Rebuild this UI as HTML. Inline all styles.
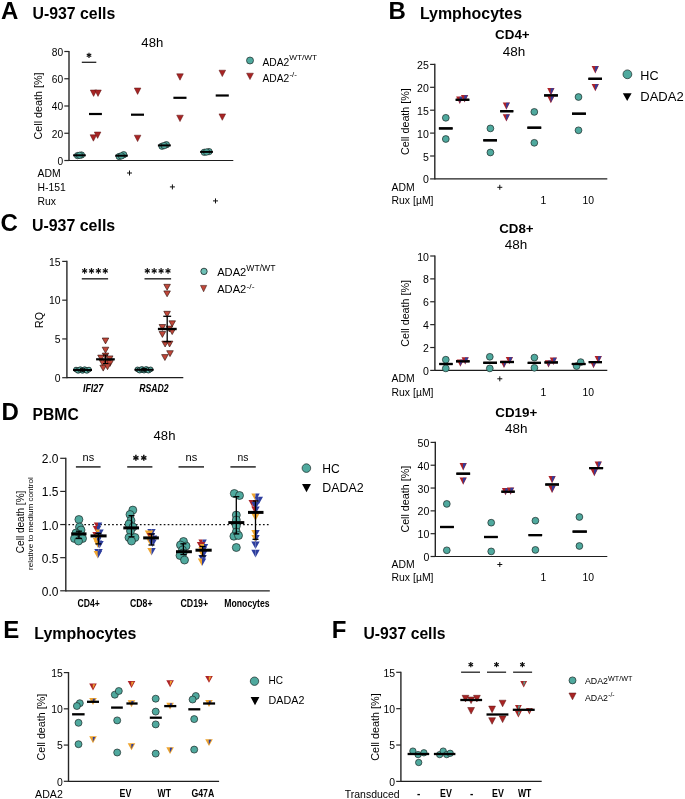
<!DOCTYPE html>
<html><head><meta charset="utf-8"><style>
html,body{margin:0;padding:0;background:#fff;}
svg{display:block;font-family:'Liberation Sans', sans-serif;will-change:transform;}
</style></head><body>
<svg width="685" height="799" viewBox="0 0 685 799">
<rect width="685" height="799" fill="#fff"/>
<text x="1" y="18.7" font-size="24" font-weight="bold">A</text>
<text x="32.5" y="19" font-size="15.8" font-weight="bold" textLength="82.8" lengthAdjust="spacingAndGlyphs">U-937 cells</text>
<text x="152.3" y="46.8" font-size="13.2" text-anchor="middle" textLength="21.9" lengthAdjust="spacingAndGlyphs">48h</text>
<line x1="69" y1="50.9" x2="69" y2="161.1" stroke="#262626" stroke-width="1.4"/>
<line x1="64.3" y1="160.5" x2="69" y2="160.5" stroke="#262626" stroke-width="1.2"/>
<text x="63.2" y="164.89" font-size="10.8" text-anchor="end" textLength="5.67" lengthAdjust="spacingAndGlyphs">0</text>
<line x1="64.3" y1="133.25" x2="69" y2="133.25" stroke="#262626" stroke-width="1.2"/>
<text x="63.2" y="137.64" font-size="10.8" text-anchor="end" textLength="11.34" lengthAdjust="spacingAndGlyphs">20</text>
<line x1="64.3" y1="106" x2="69" y2="106" stroke="#262626" stroke-width="1.2"/>
<text x="63.2" y="110.39" font-size="10.8" text-anchor="end" textLength="11.34" lengthAdjust="spacingAndGlyphs">40</text>
<line x1="64.3" y1="78.75" x2="69" y2="78.75" stroke="#262626" stroke-width="1.2"/>
<text x="63.2" y="83.14" font-size="10.8" text-anchor="end" textLength="11.34" lengthAdjust="spacingAndGlyphs">60</text>
<line x1="64.3" y1="51.5" x2="69" y2="51.5" stroke="#262626" stroke-width="1.2"/>
<text x="63.2" y="55.89" font-size="10.8" text-anchor="end" textLength="11.34" lengthAdjust="spacingAndGlyphs">80</text>
<line x1="69" y1="160.5" x2="233.3" y2="160.5" stroke="#1e1e1e" stroke-width="1.2"/>
<text x="41.8" y="106" font-size="10.8" text-anchor="middle" textLength="67" lengthAdjust="spacingAndGlyphs" transform="rotate(-90 41.8 106)">Cell death [%]</text>
<circle cx="77.6" cy="155.6" r="3.2" fill="#4FA99E" stroke="#1c2826" stroke-width="0.7"/>
<circle cx="81.4" cy="155" r="3.2" fill="#4FA99E" stroke="#1c2826" stroke-width="0.7"/>
<circle cx="79.5" cy="155.3" r="3.2" fill="#4FA99E" stroke="#1c2826" stroke-width="0.7"/>
<line x1="73.1" y1="155.3" x2="85.8" y2="155.3" stroke="#000" stroke-width="2"/>
<circle cx="119.2" cy="156.5" r="3.2" fill="#4FA99E" stroke="#1c2826" stroke-width="0.7"/>
<circle cx="123.7" cy="154.7" r="3.2" fill="#4FA99E" stroke="#1c2826" stroke-width="0.7"/>
<circle cx="121.4" cy="155.9" r="3.2" fill="#4FA99E" stroke="#1c2826" stroke-width="0.7"/>
<line x1="115.2" y1="155.7" x2="127.8" y2="155.7" stroke="#000" stroke-width="2"/>
<circle cx="162" cy="146.2" r="3.2" fill="#4FA99E" stroke="#1c2826" stroke-width="0.7"/>
<circle cx="166.4" cy="144.7" r="3.2" fill="#4FA99E" stroke="#1c2826" stroke-width="0.7"/>
<circle cx="164.2" cy="145.6" r="3.2" fill="#4FA99E" stroke="#1c2826" stroke-width="0.7"/>
<line x1="157.9" y1="145.4" x2="170.8" y2="145.4" stroke="#000" stroke-width="2"/>
<circle cx="204.3" cy="152.3" r="3.2" fill="#4FA99E" stroke="#1c2826" stroke-width="0.7"/>
<circle cx="209" cy="151.6" r="3.2" fill="#4FA99E" stroke="#1c2826" stroke-width="0.7"/>
<circle cx="206.6" cy="152" r="3.2" fill="#4FA99E" stroke="#1c2826" stroke-width="0.7"/>
<line x1="200.1" y1="151.9" x2="212.9" y2="151.9" stroke="#000" stroke-width="2"/>
<polygon points="90.3,90 96.9,90 93.6,96.4" fill="#A82424" stroke="#5a1010" stroke-width="0.5"/>
<polygon points="94.7,90 101.3,90 98,96.4" fill="#A82424" stroke="#5a1010" stroke-width="0.5"/>
<polygon points="90.1,134.8 96.7,134.8 93.4,141.2" fill="#A82424" stroke="#5a1010" stroke-width="0.5"/>
<polygon points="94.3,132 100.9,132 97.6,138.4" fill="#A82424" stroke="#5a1010" stroke-width="0.5"/>
<polygon points="134.3,88 140.9,88 137.6,94.4" fill="#A82424" stroke="#5a1010" stroke-width="0.5"/>
<polygon points="134.3,135.2 140.9,135.2 137.6,141.6" fill="#A82424" stroke="#5a1010" stroke-width="0.5"/>
<polygon points="176.7,73.8 183.3,73.8 180,80.2" fill="#A82424" stroke="#5a1010" stroke-width="0.5"/>
<polygon points="176.7,115.2 183.3,115.2 180,121.6" fill="#A82424" stroke="#5a1010" stroke-width="0.5"/>
<polygon points="219,70.2 225.6,70.2 222.3,76.6" fill="#A82424" stroke="#5a1010" stroke-width="0.5"/>
<polygon points="219,113.9 225.6,113.9 222.3,120.3" fill="#A82424" stroke="#5a1010" stroke-width="0.5"/>
<line x1="89" y1="114" x2="101.9" y2="114" stroke="#000" stroke-width="2.2"/>
<line x1="131" y1="114.7" x2="144" y2="114.7" stroke="#000" stroke-width="2.2"/>
<line x1="173.4" y1="97.8" x2="186.5" y2="97.8" stroke="#000" stroke-width="2.2"/>
<line x1="215.7" y1="95.5" x2="228.8" y2="95.5" stroke="#000" stroke-width="2.2"/>
<line x1="81.8" y1="62.3" x2="96.3" y2="62.3" stroke="#222" stroke-width="1.3"/>
<line x1="89" y1="52.7" x2="89" y2="57.9" stroke="#111" stroke-width="1.2"/>
<line x1="86.75" y1="54" x2="91.25" y2="56.6" stroke="#111" stroke-width="1.2"/>
<line x1="91.25" y1="54" x2="86.75" y2="56.6" stroke="#111" stroke-width="1.2"/>
<circle cx="89" cy="55.3" r="0.9" fill="#111"/>
<text x="37.5" y="176.7" font-size="10.4" textLength="23.1" lengthAdjust="spacingAndGlyphs">ADM</text>
<text x="37.5" y="190.8" font-size="10.4">H-151</text>
<text x="37.5" y="205.2" font-size="10.4">Rux</text>
<line x1="127" y1="173" x2="132" y2="173" stroke="#111" stroke-width="1"/>
<line x1="129.5" y1="170.5" x2="129.5" y2="175.5" stroke="#111" stroke-width="1"/>
<line x1="169.9" y1="186.9" x2="174.9" y2="186.9" stroke="#111" stroke-width="1"/>
<line x1="172.4" y1="184.4" x2="172.4" y2="189.4" stroke="#111" stroke-width="1"/>
<line x1="213" y1="200.9" x2="218" y2="200.9" stroke="#111" stroke-width="1"/>
<line x1="215.5" y1="198.4" x2="215.5" y2="203.4" stroke="#111" stroke-width="1"/>
<circle cx="250" cy="60.5" r="3.5" fill="#4FA99E" stroke="#1c2826" stroke-width="0.7"/>
<text x="262.5" y="66.1" font-size="10.4" textLength="26.8" lengthAdjust="spacingAndGlyphs">ADA2</text>
<text x="289.2" y="60.2" font-size="8" textLength="27.8" lengthAdjust="spacingAndGlyphs">WT/WT</text>
<polygon points="246.6,73.2 253.4,73.2 250,79.6" fill="#A82424" stroke="#5a1010" stroke-width="0.5"/>
<text x="262.5" y="82" font-size="10.4" textLength="26.8" lengthAdjust="spacingAndGlyphs">ADA2</text>
<text x="289.4" y="77" font-size="7.8" textLength="7.5" lengthAdjust="spacingAndGlyphs">-/-</text>
<text x="388.5" y="18.6" font-size="24" font-weight="bold">B</text>
<text x="419.9" y="18.9" font-size="15.8" font-weight="bold" textLength="102.2" lengthAdjust="spacingAndGlyphs">Lymphocytes</text>
<text x="512.4" y="39.4" font-size="13" font-weight="bold" text-anchor="middle" textLength="34.6" lengthAdjust="spacingAndGlyphs">CD4+</text>
<text x="514" y="55.8" font-size="13" text-anchor="middle" textLength="22.5" lengthAdjust="spacingAndGlyphs">48h</text>
<line x1="434.8" y1="63.8" x2="434.8" y2="179.5" stroke="#262626" stroke-width="1.4"/>
<line x1="430.1" y1="178.9" x2="434.8" y2="178.9" stroke="#262626" stroke-width="1.2"/>
<text x="428.9" y="183.43" font-size="11.2" text-anchor="end" textLength="5.89" lengthAdjust="spacingAndGlyphs">0</text>
<line x1="430.1" y1="156" x2="434.8" y2="156" stroke="#262626" stroke-width="1.2"/>
<text x="428.9" y="160.53" font-size="11.2" text-anchor="end" textLength="5.89" lengthAdjust="spacingAndGlyphs">5</text>
<line x1="430.1" y1="133.1" x2="434.8" y2="133.1" stroke="#262626" stroke-width="1.2"/>
<text x="428.9" y="137.63" font-size="11.2" text-anchor="end" textLength="11.79" lengthAdjust="spacingAndGlyphs">10</text>
<line x1="430.1" y1="110.2" x2="434.8" y2="110.2" stroke="#262626" stroke-width="1.2"/>
<text x="428.9" y="114.73" font-size="11.2" text-anchor="end" textLength="11.79" lengthAdjust="spacingAndGlyphs">15</text>
<line x1="430.1" y1="87.3" x2="434.8" y2="87.3" stroke="#262626" stroke-width="1.2"/>
<text x="428.9" y="91.83" font-size="11.2" text-anchor="end" textLength="11.79" lengthAdjust="spacingAndGlyphs">20</text>
<line x1="430.1" y1="64.4" x2="434.8" y2="64.4" stroke="#262626" stroke-width="1.2"/>
<text x="428.9" y="68.93" font-size="11.2" text-anchor="end" textLength="11.79" lengthAdjust="spacingAndGlyphs">25</text>
<line x1="434.8" y1="178.9" x2="607.3" y2="178.9" stroke="#1e1e1e" stroke-width="1.2"/>
<text x="409.5" y="121.6" font-size="10.8" text-anchor="middle" textLength="66.8" lengthAdjust="spacingAndGlyphs" transform="rotate(-90 409.5 121.6)">Cell death [%]</text>
<line x1="438.9" y1="128.4" x2="452.6" y2="128.4" stroke="#000" stroke-width="2.2"/>
<line x1="455.7" y1="99.8" x2="469.3" y2="99.8" stroke="#000" stroke-width="2.2"/>
<line x1="483.3" y1="140.3" x2="497" y2="140.3" stroke="#000" stroke-width="2.2"/>
<line x1="500.2" y1="111.2" x2="513.3" y2="111.2" stroke="#000" stroke-width="2.2"/>
<line x1="527.4" y1="127.7" x2="541.2" y2="127.7" stroke="#000" stroke-width="2.2"/>
<line x1="544.1" y1="95.4" x2="557.9" y2="95.4" stroke="#000" stroke-width="2.2"/>
<line x1="572" y1="113.7" x2="585.9" y2="113.7" stroke="#000" stroke-width="2.2"/>
<line x1="588.4" y1="78.8" x2="602" y2="78.8" stroke="#000" stroke-width="2.2"/>
<circle cx="445.8" cy="117.8" r="3.4" fill="#4FA99E" stroke="#1c2826" stroke-width="0.7"/>
<circle cx="445.8" cy="139" r="3.4" fill="#4FA99E" stroke="#1c2826" stroke-width="0.7"/>
<circle cx="490.4" cy="128.4" r="3.4" fill="#4FA99E" stroke="#1c2826" stroke-width="0.7"/>
<circle cx="490.4" cy="152.5" r="3.4" fill="#4FA99E" stroke="#1c2826" stroke-width="0.7"/>
<circle cx="534.3" cy="111.9" r="3.4" fill="#4FA99E" stroke="#1c2826" stroke-width="0.7"/>
<circle cx="534.3" cy="142.8" r="3.4" fill="#4FA99E" stroke="#1c2826" stroke-width="0.7"/>
<circle cx="578.5" cy="97" r="3.4" fill="#4FA99E" stroke="#1c2826" stroke-width="0.7"/>
<circle cx="578.5" cy="130.3" r="3.4" fill="#4FA99E" stroke="#1c2826" stroke-width="0.7"/>
<polygon points="456.15,96.6 463.45,96.6 459.8,103.9" fill="#AC2228"/>
<polygon points="459.6,96.84 462.88,96.84 459.6,103.42" fill="#2E3E9E"/>
<polygon points="460.95,95.1 468.25,95.1 464.6,102.4" fill="#AC2228"/>
<polygon points="464.4,95.34 467.68,95.34 464.4,101.92" fill="#2E3E9E"/>
<polygon points="502.75,102.4 510.05,102.4 506.4,109.7" fill="#AC2228"/>
<polygon points="506.2,102.64 509.48,102.64 506.2,109.22" fill="#2E3E9E"/>
<polygon points="502.75,114.3 510.05,114.3 506.4,121.6" fill="#AC2228"/>
<polygon points="506.2,114.54 509.48,114.54 506.2,121.12" fill="#2E3E9E"/>
<polygon points="547.25,88.1 554.55,88.1 550.9,95.4" fill="#AC2228"/>
<polygon points="550.7,88.34 553.98,88.34 550.7,94.92" fill="#2E3E9E"/>
<polygon points="547.25,96 554.55,96 550.9,103.3" fill="#AC2228"/>
<polygon points="550.7,96.24 553.98,96.24 550.7,102.82" fill="#2E3E9E"/>
<polygon points="591.65,66.1 598.95,66.1 595.3,73.4" fill="#AC2228"/>
<polygon points="595.1,66.34 598.38,66.34 595.1,72.92" fill="#2E3E9E"/>
<polygon points="591.65,84 598.95,84 595.3,91.3" fill="#AC2228"/>
<polygon points="595.1,84.24 598.38,84.24 595.1,90.82" fill="#2E3E9E"/>
<line x1="438.9" y1="128.4" x2="452.6" y2="128.4" stroke="#000" stroke-width="2.2"/>
<line x1="455.7" y1="99.8" x2="469.3" y2="99.8" stroke="#000" stroke-width="2.2"/>
<line x1="483.3" y1="140.3" x2="497" y2="140.3" stroke="#000" stroke-width="2.2"/>
<line x1="500.2" y1="111.2" x2="513.3" y2="111.2" stroke="#000" stroke-width="2.2"/>
<line x1="527.4" y1="127.7" x2="541.2" y2="127.7" stroke="#000" stroke-width="2.2"/>
<line x1="544.1" y1="95.4" x2="557.9" y2="95.4" stroke="#000" stroke-width="2.2"/>
<line x1="572" y1="113.7" x2="585.9" y2="113.7" stroke="#000" stroke-width="2.2"/>
<line x1="588.4" y1="78.8" x2="602" y2="78.8" stroke="#000" stroke-width="2.2"/>
<text x="391.5" y="190.7" font-size="10.4" textLength="23.1" lengthAdjust="spacingAndGlyphs">ADM</text>
<text x="391.5" y="204.2" font-size="10.4" textLength="42" lengthAdjust="spacingAndGlyphs">Rux [µM]</text>
<line x1="497.3" y1="187.3" x2="502.3" y2="187.3" stroke="#111" stroke-width="1"/>
<line x1="499.8" y1="184.8" x2="499.8" y2="189.8" stroke="#111" stroke-width="1"/>
<text x="543.3" y="204.2" font-size="10.4" text-anchor="middle">1</text>
<text x="588.2" y="204.2" font-size="10.4" text-anchor="middle">10</text>
<circle cx="627.4" cy="74.3" r="4.4" fill="#4FA99E" stroke="#1c2826" stroke-width="0.7"/>
<text x="640.3" y="79.9" font-size="12.6">HC</text>
<polygon points="622.8,93.2 631.6,93.2 627.2,101" fill="#000"/>
<text x="640.3" y="100.9" font-size="12.6" textLength="43.4" lengthAdjust="spacingAndGlyphs">DADA2</text>
<text x="516.4" y="232.5" font-size="13" font-weight="bold" text-anchor="middle" textLength="34.4" lengthAdjust="spacingAndGlyphs">CD8+</text>
<text x="516" y="248.9" font-size="13" text-anchor="middle" textLength="22.5" lengthAdjust="spacingAndGlyphs">48h</text>
<line x1="434.9" y1="255.4" x2="434.9" y2="371" stroke="#262626" stroke-width="1.4"/>
<line x1="430.2" y1="370.4" x2="434.9" y2="370.4" stroke="#262626" stroke-width="1.2"/>
<text x="429" y="374.93" font-size="11.2" text-anchor="end" textLength="5.89" lengthAdjust="spacingAndGlyphs">0</text>
<line x1="430.2" y1="347.52" x2="434.9" y2="347.52" stroke="#262626" stroke-width="1.2"/>
<text x="429" y="352.05" font-size="11.2" text-anchor="end" textLength="5.89" lengthAdjust="spacingAndGlyphs">2</text>
<line x1="430.2" y1="324.64" x2="434.9" y2="324.64" stroke="#262626" stroke-width="1.2"/>
<text x="429" y="329.17" font-size="11.2" text-anchor="end" textLength="5.89" lengthAdjust="spacingAndGlyphs">4</text>
<line x1="430.2" y1="301.76" x2="434.9" y2="301.76" stroke="#262626" stroke-width="1.2"/>
<text x="429" y="306.29" font-size="11.2" text-anchor="end" textLength="5.89" lengthAdjust="spacingAndGlyphs">6</text>
<line x1="430.2" y1="278.88" x2="434.9" y2="278.88" stroke="#262626" stroke-width="1.2"/>
<text x="429" y="283.41" font-size="11.2" text-anchor="end" textLength="5.89" lengthAdjust="spacingAndGlyphs">8</text>
<line x1="430.2" y1="256" x2="434.9" y2="256" stroke="#262626" stroke-width="1.2"/>
<text x="429" y="260.53" font-size="11.2" text-anchor="end" textLength="11.79" lengthAdjust="spacingAndGlyphs">10</text>
<line x1="434.9" y1="370.4" x2="607.3" y2="370.4" stroke="#1e1e1e" stroke-width="1.2"/>
<text x="409.5" y="313.4" font-size="10.8" text-anchor="middle" textLength="66.8" lengthAdjust="spacingAndGlyphs" transform="rotate(-90 409.5 313.4)">Cell death [%]</text>
<line x1="439.3" y1="364" x2="452.6" y2="364" stroke="#000" stroke-width="2.2"/>
<line x1="456" y1="361.3" x2="469.6" y2="361.3" stroke="#000" stroke-width="2.2"/>
<line x1="483.3" y1="362.8" x2="497" y2="362.8" stroke="#000" stroke-width="2.2"/>
<line x1="500.2" y1="362" x2="514" y2="362" stroke="#000" stroke-width="2.2"/>
<line x1="527.7" y1="362.9" x2="541" y2="362.9" stroke="#000" stroke-width="2.2"/>
<line x1="544.5" y1="362.4" x2="557.9" y2="362.4" stroke="#000" stroke-width="2.2"/>
<line x1="571.8" y1="364" x2="585.5" y2="364" stroke="#000" stroke-width="2.2"/>
<line x1="588.7" y1="362.1" x2="602" y2="362.1" stroke="#000" stroke-width="2.2"/>
<circle cx="445.8" cy="359.7" r="3.4" fill="#4FA99E" stroke="#1c2826" stroke-width="0.7"/>
<circle cx="445.8" cy="368.4" r="3.4" fill="#4FA99E" stroke="#1c2826" stroke-width="0.7"/>
<circle cx="489.8" cy="356.8" r="3.4" fill="#4FA99E" stroke="#1c2826" stroke-width="0.7"/>
<circle cx="489.8" cy="368.4" r="3.4" fill="#4FA99E" stroke="#1c2826" stroke-width="0.7"/>
<circle cx="534.4" cy="357.6" r="3.4" fill="#4FA99E" stroke="#1c2826" stroke-width="0.7"/>
<circle cx="534.4" cy="367.8" r="3.4" fill="#4FA99E" stroke="#1c2826" stroke-width="0.7"/>
<circle cx="576.6" cy="366.1" r="3.4" fill="#4FA99E" stroke="#1c2826" stroke-width="0.7"/>
<circle cx="580.7" cy="362.1" r="3.4" fill="#4FA99E" stroke="#1c2826" stroke-width="0.7"/>
<polygon points="456.75,359.4 464.05,359.4 460.4,366.7" fill="#AC2228"/>
<polygon points="460.2,359.64 463.48,359.64 460.2,366.22" fill="#2E3E9E"/>
<polygon points="461.55,357.2 468.85,357.2 465.2,364.5" fill="#AC2228"/>
<polygon points="465,357.44 468.28,357.44 465,364.02" fill="#2E3E9E"/>
<polygon points="500.35,360.8 507.65,360.8 504,368.1" fill="#AC2228"/>
<polygon points="503.8,361.04 507.08,361.04 503.8,367.62" fill="#2E3E9E"/>
<polygon points="505.75,357 513.05,357 509.4,364.3" fill="#AC2228"/>
<polygon points="509.2,357.24 512.48,357.24 509.2,363.82" fill="#2E3E9E"/>
<polygon points="544.85,360.2 552.15,360.2 548.5,367.5" fill="#AC2228"/>
<polygon points="548.3,360.44 551.58,360.44 548.3,367.02" fill="#2E3E9E"/>
<polygon points="549.75,357.6 557.05,357.6 553.4,364.9" fill="#AC2228"/>
<polygon points="553.2,357.84 556.48,357.84 553.2,364.42" fill="#2E3E9E"/>
<polygon points="589.85,360.9 597.15,360.9 593.5,368.2" fill="#AC2228"/>
<polygon points="593.3,361.14 596.58,361.14 593.3,367.72" fill="#2E3E9E"/>
<polygon points="594.65,356 601.95,356 598.3,363.3" fill="#AC2228"/>
<polygon points="598.1,356.24 601.38,356.24 598.1,362.82" fill="#2E3E9E"/>
<line x1="439.3" y1="364" x2="452.6" y2="364" stroke="#000" stroke-width="2.2"/>
<line x1="456" y1="361.3" x2="469.6" y2="361.3" stroke="#000" stroke-width="2.2"/>
<line x1="483.3" y1="362.8" x2="497" y2="362.8" stroke="#000" stroke-width="2.2"/>
<line x1="500.2" y1="362" x2="514" y2="362" stroke="#000" stroke-width="2.2"/>
<line x1="527.7" y1="362.9" x2="541" y2="362.9" stroke="#000" stroke-width="2.2"/>
<line x1="544.5" y1="362.4" x2="557.9" y2="362.4" stroke="#000" stroke-width="2.2"/>
<line x1="571.8" y1="364" x2="585.5" y2="364" stroke="#000" stroke-width="2.2"/>
<line x1="588.7" y1="362.1" x2="602" y2="362.1" stroke="#000" stroke-width="2.2"/>
<text x="391.5" y="382.2" font-size="10.4" textLength="23.1" lengthAdjust="spacingAndGlyphs">ADM</text>
<text x="391.5" y="395.7" font-size="10.4" textLength="42" lengthAdjust="spacingAndGlyphs">Rux [µM]</text>
<line x1="497.3" y1="378.8" x2="502.3" y2="378.8" stroke="#111" stroke-width="1"/>
<line x1="499.8" y1="376.3" x2="499.8" y2="381.3" stroke="#111" stroke-width="1"/>
<text x="543.3" y="395.7" font-size="10.4" text-anchor="middle">1</text>
<text x="588.2" y="395.7" font-size="10.4" text-anchor="middle">10</text>
<text x="516.3" y="416.6" font-size="13" font-weight="bold" text-anchor="middle" textLength="42" lengthAdjust="spacingAndGlyphs">CD19+</text>
<text x="516.3" y="433" font-size="13" text-anchor="middle" textLength="22.5" lengthAdjust="spacingAndGlyphs">48h</text>
<line x1="435.3" y1="441.8" x2="435.3" y2="557.1" stroke="#262626" stroke-width="1.4"/>
<line x1="430.6" y1="556.5" x2="435.3" y2="556.5" stroke="#262626" stroke-width="1.2"/>
<text x="429.4" y="561.03" font-size="11.2" text-anchor="end" textLength="5.89" lengthAdjust="spacingAndGlyphs">0</text>
<line x1="430.6" y1="533.68" x2="435.3" y2="533.68" stroke="#262626" stroke-width="1.2"/>
<text x="429.4" y="538.21" font-size="11.2" text-anchor="end" textLength="11.79" lengthAdjust="spacingAndGlyphs">10</text>
<line x1="430.6" y1="510.86" x2="435.3" y2="510.86" stroke="#262626" stroke-width="1.2"/>
<text x="429.4" y="515.39" font-size="11.2" text-anchor="end" textLength="11.79" lengthAdjust="spacingAndGlyphs">20</text>
<line x1="430.6" y1="488.04" x2="435.3" y2="488.04" stroke="#262626" stroke-width="1.2"/>
<text x="429.4" y="492.57" font-size="11.2" text-anchor="end" textLength="11.79" lengthAdjust="spacingAndGlyphs">30</text>
<line x1="430.6" y1="465.22" x2="435.3" y2="465.22" stroke="#262626" stroke-width="1.2"/>
<text x="429.4" y="469.75" font-size="11.2" text-anchor="end" textLength="11.79" lengthAdjust="spacingAndGlyphs">40</text>
<line x1="430.6" y1="442.4" x2="435.3" y2="442.4" stroke="#262626" stroke-width="1.2"/>
<text x="429.4" y="446.93" font-size="11.2" text-anchor="end" textLength="11.79" lengthAdjust="spacingAndGlyphs">50</text>
<line x1="435.3" y1="556.5" x2="607.3" y2="556.5" stroke="#1e1e1e" stroke-width="1.2"/>
<text x="409.5" y="499.2" font-size="10.8" text-anchor="middle" textLength="66.8" lengthAdjust="spacingAndGlyphs" transform="rotate(-90 409.5 499.2)">Cell death [%]</text>
<line x1="440.1" y1="527" x2="453.8" y2="527" stroke="#000" stroke-width="2.2"/>
<line x1="456.4" y1="473.7" x2="470.1" y2="473.7" stroke="#000" stroke-width="2.2"/>
<line x1="484" y1="537" x2="497.7" y2="537" stroke="#000" stroke-width="2.2"/>
<line x1="501.4" y1="491.7" x2="514.7" y2="491.7" stroke="#000" stroke-width="2.2"/>
<line x1="528.5" y1="535.1" x2="542.1" y2="535.1" stroke="#000" stroke-width="2.2"/>
<line x1="545.3" y1="484.5" x2="559" y2="484.5" stroke="#000" stroke-width="2.2"/>
<line x1="572.6" y1="531.6" x2="586.8" y2="531.6" stroke="#000" stroke-width="2.2"/>
<line x1="589.2" y1="468.1" x2="603.1" y2="468.1" stroke="#000" stroke-width="2.2"/>
<circle cx="446.8" cy="503.9" r="3.4" fill="#4FA99E" stroke="#1c2826" stroke-width="0.7"/>
<circle cx="446.8" cy="550.3" r="3.4" fill="#4FA99E" stroke="#1c2826" stroke-width="0.7"/>
<circle cx="491.2" cy="522.7" r="3.4" fill="#4FA99E" stroke="#1c2826" stroke-width="0.7"/>
<circle cx="491.2" cy="551.4" r="3.4" fill="#4FA99E" stroke="#1c2826" stroke-width="0.7"/>
<circle cx="535.4" cy="520.7" r="3.4" fill="#4FA99E" stroke="#1c2826" stroke-width="0.7"/>
<circle cx="535.4" cy="549.9" r="3.4" fill="#4FA99E" stroke="#1c2826" stroke-width="0.7"/>
<circle cx="579.4" cy="517" r="3.4" fill="#4FA99E" stroke="#1c2826" stroke-width="0.7"/>
<circle cx="579.4" cy="546" r="3.4" fill="#4FA99E" stroke="#1c2826" stroke-width="0.7"/>
<polygon points="459.55,463.1 466.85,463.1 463.2,470.4" fill="#AC2228"/>
<polygon points="463,463.34 466.28,463.34 463,469.92" fill="#2E3E9E"/>
<polygon points="459.55,477.4 466.85,477.4 463.2,484.7" fill="#AC2228"/>
<polygon points="463,477.64 466.28,477.64 463,484.22" fill="#2E3E9E"/>
<polygon points="501.85,488 509.15,488 505.5,495.3" fill="#AC2228"/>
<polygon points="505.3,488.24 508.58,488.24 505.3,494.82" fill="#2E3E9E"/>
<polygon points="506.95,487.5 514.25,487.5 510.6,494.8" fill="#AC2228"/>
<polygon points="510.4,487.74 513.68,487.74 510.4,494.32" fill="#2E3E9E"/>
<polygon points="548.45,476 555.75,476 552.1,483.3" fill="#AC2228"/>
<polygon points="551.9,476.24 555.18,476.24 551.9,482.82" fill="#2E3E9E"/>
<polygon points="548.45,485.7 555.75,485.7 552.1,493" fill="#AC2228"/>
<polygon points="551.9,485.94 555.18,485.94 551.9,492.52" fill="#2E3E9E"/>
<polygon points="594.65,461.6 601.95,461.6 598.3,468.9" fill="#AC2228"/>
<polygon points="598.1,461.84 601.38,461.84 598.1,468.42" fill="#2E3E9E"/>
<polygon points="590.65,469 597.95,469 594.3,476.3" fill="#AC2228"/>
<polygon points="594.1,469.24 597.38,469.24 594.1,475.82" fill="#2E3E9E"/>
<line x1="440.1" y1="527" x2="453.8" y2="527" stroke="#000" stroke-width="2.2"/>
<line x1="456.4" y1="473.7" x2="470.1" y2="473.7" stroke="#000" stroke-width="2.2"/>
<line x1="484" y1="537" x2="497.7" y2="537" stroke="#000" stroke-width="2.2"/>
<line x1="501.4" y1="491.7" x2="514.7" y2="491.7" stroke="#000" stroke-width="2.2"/>
<line x1="528.5" y1="535.1" x2="542.1" y2="535.1" stroke="#000" stroke-width="2.2"/>
<line x1="545.3" y1="484.5" x2="559" y2="484.5" stroke="#000" stroke-width="2.2"/>
<line x1="572.6" y1="531.6" x2="586.8" y2="531.6" stroke="#000" stroke-width="2.2"/>
<line x1="589.2" y1="468.1" x2="603.1" y2="468.1" stroke="#000" stroke-width="2.2"/>
<text x="391.5" y="567.9" font-size="10.4" textLength="23.1" lengthAdjust="spacingAndGlyphs">ADM</text>
<text x="391.5" y="581.4" font-size="10.4" textLength="42" lengthAdjust="spacingAndGlyphs">Rux [µM]</text>
<line x1="497.3" y1="564.5" x2="502.3" y2="564.5" stroke="#111" stroke-width="1"/>
<line x1="499.8" y1="562" x2="499.8" y2="567" stroke="#111" stroke-width="1"/>
<text x="543.3" y="581.4" font-size="10.4" text-anchor="middle">1</text>
<text x="588.2" y="581.4" font-size="10.4" text-anchor="middle">10</text>
<text x="0.5" y="231" font-size="24" font-weight="bold">C</text>
<text x="31.9" y="231.3" font-size="15.8" font-weight="bold" textLength="83.3" lengthAdjust="spacingAndGlyphs">U-937 cells</text>
<line x1="66.9" y1="260.8" x2="66.9" y2="378.3" stroke="#262626" stroke-width="1.4"/>
<line x1="62.2" y1="377.7" x2="66.9" y2="377.7" stroke="#262626" stroke-width="1.2"/>
<text x="60.6" y="381.94" font-size="10.4" text-anchor="end">0</text>
<line x1="62.2" y1="338.93" x2="66.9" y2="338.93" stroke="#262626" stroke-width="1.2"/>
<text x="60.6" y="343.18" font-size="10.4" text-anchor="end">5</text>
<line x1="62.2" y1="300.17" x2="66.9" y2="300.17" stroke="#262626" stroke-width="1.2"/>
<text x="60.6" y="304.41" font-size="10.4" text-anchor="end">10</text>
<line x1="62.2" y1="261.4" x2="66.9" y2="261.4" stroke="#262626" stroke-width="1.2"/>
<text x="60.6" y="265.64" font-size="10.4" text-anchor="end">15</text>
<line x1="66.9" y1="377.7" x2="183.3" y2="377.7" stroke="#1e1e1e" stroke-width="1.2"/>
<text x="43.2" y="320" font-size="10.6" text-anchor="middle" transform="rotate(-90 43.2 320)">RQ</text>
<line x1="81.8" y1="278.8" x2="108.1" y2="278.8" stroke="#333" stroke-width="1.5"/>
<line x1="84.6" y1="268.05" x2="84.6" y2="273.75" stroke="#111" stroke-width="1.2"/>
<line x1="82.13" y1="269.47" x2="87.07" y2="272.32" stroke="#111" stroke-width="1.2"/>
<line x1="87.07" y1="269.47" x2="82.13" y2="272.32" stroke="#111" stroke-width="1.2"/>
<circle cx="84.6" cy="270.9" r="0.9" fill="#111"/>
<line x1="91.5" y1="268.05" x2="91.5" y2="273.75" stroke="#111" stroke-width="1.2"/>
<line x1="89.03" y1="269.47" x2="93.97" y2="272.32" stroke="#111" stroke-width="1.2"/>
<line x1="93.97" y1="269.47" x2="89.03" y2="272.32" stroke="#111" stroke-width="1.2"/>
<circle cx="91.5" cy="270.9" r="0.9" fill="#111"/>
<line x1="98.4" y1="268.05" x2="98.4" y2="273.75" stroke="#111" stroke-width="1.2"/>
<line x1="95.93" y1="269.47" x2="100.87" y2="272.32" stroke="#111" stroke-width="1.2"/>
<line x1="100.87" y1="269.47" x2="95.93" y2="272.32" stroke="#111" stroke-width="1.2"/>
<circle cx="98.4" cy="270.9" r="0.9" fill="#111"/>
<line x1="105.3" y1="268.05" x2="105.3" y2="273.75" stroke="#111" stroke-width="1.2"/>
<line x1="102.83" y1="269.47" x2="107.77" y2="272.32" stroke="#111" stroke-width="1.2"/>
<line x1="107.77" y1="269.47" x2="102.83" y2="272.32" stroke="#111" stroke-width="1.2"/>
<circle cx="105.3" cy="270.9" r="0.9" fill="#111"/>
<line x1="144.5" y1="278.8" x2="171.1" y2="278.8" stroke="#333" stroke-width="1.5"/>
<line x1="147.3" y1="268.05" x2="147.3" y2="273.75" stroke="#111" stroke-width="1.2"/>
<line x1="144.83" y1="269.47" x2="149.77" y2="272.32" stroke="#111" stroke-width="1.2"/>
<line x1="149.77" y1="269.47" x2="144.83" y2="272.32" stroke="#111" stroke-width="1.2"/>
<circle cx="147.3" cy="270.9" r="0.9" fill="#111"/>
<line x1="154.2" y1="268.05" x2="154.2" y2="273.75" stroke="#111" stroke-width="1.2"/>
<line x1="151.73" y1="269.47" x2="156.67" y2="272.32" stroke="#111" stroke-width="1.2"/>
<line x1="156.67" y1="269.47" x2="151.73" y2="272.32" stroke="#111" stroke-width="1.2"/>
<circle cx="154.2" cy="270.9" r="0.9" fill="#111"/>
<line x1="161.1" y1="268.05" x2="161.1" y2="273.75" stroke="#111" stroke-width="1.2"/>
<line x1="158.63" y1="269.47" x2="163.57" y2="272.32" stroke="#111" stroke-width="1.2"/>
<line x1="163.57" y1="269.47" x2="158.63" y2="272.32" stroke="#111" stroke-width="1.2"/>
<circle cx="161.1" cy="270.9" r="0.9" fill="#111"/>
<line x1="168" y1="268.05" x2="168" y2="273.75" stroke="#111" stroke-width="1.2"/>
<line x1="165.53" y1="269.47" x2="170.47" y2="272.32" stroke="#111" stroke-width="1.2"/>
<line x1="170.47" y1="269.47" x2="165.53" y2="272.32" stroke="#111" stroke-width="1.2"/>
<circle cx="168" cy="270.9" r="0.9" fill="#111"/>
<circle cx="76" cy="369.6" r="2.4" fill="#5DB6AC" stroke="#10201e" stroke-width="0.8"/>
<circle cx="78.17" cy="370.4" r="2.8" fill="#5DB6AC" stroke="#10201e" stroke-width="0.8"/>
<circle cx="80.33" cy="369.6" r="2.8" fill="#5DB6AC" stroke="#10201e" stroke-width="0.8"/>
<circle cx="82.5" cy="370.4" r="2.8" fill="#5DB6AC" stroke="#10201e" stroke-width="0.8"/>
<circle cx="84.67" cy="369.6" r="2.8" fill="#5DB6AC" stroke="#10201e" stroke-width="0.8"/>
<circle cx="86.83" cy="370.4" r="2.8" fill="#5DB6AC" stroke="#10201e" stroke-width="0.8"/>
<circle cx="89" cy="369.6" r="2.4" fill="#5DB6AC" stroke="#10201e" stroke-width="0.8"/>
<line x1="73" y1="370" x2="92" y2="370" stroke="#000" stroke-width="2"/>
<line x1="82.5" y1="368.8" x2="82.5" y2="371.2" stroke="#000" stroke-width="1"/>
<line x1="80" y1="368.8" x2="85" y2="368.8" stroke="#000" stroke-width="1"/>
<line x1="80" y1="371.2" x2="85" y2="371.2" stroke="#000" stroke-width="1"/>
<circle cx="137.5" cy="369.4" r="2.4" fill="#5DB6AC" stroke="#10201e" stroke-width="0.8"/>
<circle cx="139.68" cy="370.2" r="2.8" fill="#5DB6AC" stroke="#10201e" stroke-width="0.8"/>
<circle cx="141.87" cy="369.4" r="2.8" fill="#5DB6AC" stroke="#10201e" stroke-width="0.8"/>
<circle cx="144.05" cy="370.2" r="2.8" fill="#5DB6AC" stroke="#10201e" stroke-width="0.8"/>
<circle cx="146.23" cy="369.4" r="2.8" fill="#5DB6AC" stroke="#10201e" stroke-width="0.8"/>
<circle cx="148.42" cy="370.2" r="2.8" fill="#5DB6AC" stroke="#10201e" stroke-width="0.8"/>
<circle cx="150.6" cy="369.4" r="2.4" fill="#5DB6AC" stroke="#10201e" stroke-width="0.8"/>
<line x1="134.5" y1="369.8" x2="153.6" y2="369.8" stroke="#000" stroke-width="2"/>
<line x1="144.05" y1="368.6" x2="144.05" y2="371" stroke="#000" stroke-width="1"/>
<line x1="141.55" y1="368.6" x2="146.55" y2="368.6" stroke="#000" stroke-width="1"/>
<line x1="141.55" y1="371" x2="146.55" y2="371" stroke="#000" stroke-width="1"/>
<polygon points="102.2,338 108.8,338 105.5,343.9" fill="#C0473A" stroke="#2a0a05" stroke-width="0.6"/>
<polygon points="102.2,347.2 108.8,347.2 105.5,353.1" fill="#C0473A" stroke="#2a0a05" stroke-width="0.6"/>
<polygon points="102.2,353.1 108.8,353.1 105.5,359" fill="#C0473A" stroke="#2a0a05" stroke-width="0.6"/>
<polygon points="97.7,355.1 104.3,355.1 101,361" fill="#C0473A" stroke="#2a0a05" stroke-width="0.6"/>
<polygon points="106.4,355.9 113,355.9 109.7,361.8" fill="#C0473A" stroke="#2a0a05" stroke-width="0.6"/>
<polygon points="99.4,360.2 106,360.2 102.7,366.1" fill="#C0473A" stroke="#2a0a05" stroke-width="0.6"/>
<polygon points="103.6,360 110.2,360 106.9,365.9" fill="#C0473A" stroke="#2a0a05" stroke-width="0.6"/>
<polygon points="106.7,360.5 113.3,360.5 110,366.4" fill="#C0473A" stroke="#2a0a05" stroke-width="0.6"/>
<polygon points="99.9,365.2 106.5,365.2 103.2,371.1" fill="#C0473A" stroke="#2a0a05" stroke-width="0.6"/>
<polygon points="104.2,363.8 110.8,363.8 107.5,369.7" fill="#C0473A" stroke="#2a0a05" stroke-width="0.6"/>
<line x1="105.5" y1="355" x2="105.5" y2="363.5" stroke="#000" stroke-width="1"/>
<line x1="103" y1="355" x2="108" y2="355" stroke="#000" stroke-width="1"/>
<line x1="103" y1="363.5" x2="108" y2="363.5" stroke="#000" stroke-width="1"/>
<line x1="96.1" y1="359.3" x2="114.8" y2="359.3" stroke="#000" stroke-width="2.2"/>
<polygon points="163.8,284.3 170.4,284.3 167.1,290.2" fill="#C0473A" stroke="#2a0a05" stroke-width="0.6"/>
<polygon points="163.8,290.9 170.4,290.9 167.1,296.8" fill="#C0473A" stroke="#2a0a05" stroke-width="0.6"/>
<polygon points="163.8,311.3 170.4,311.3 167.1,317.2" fill="#C0473A" stroke="#2a0a05" stroke-width="0.6"/>
<polygon points="168.9,320.8 175.5,320.8 172.2,326.7" fill="#C0473A" stroke="#2a0a05" stroke-width="0.6"/>
<polygon points="159.1,324.5 165.7,324.5 162.4,330.4" fill="#C0473A" stroke="#2a0a05" stroke-width="0.6"/>
<polygon points="166.1,326.1 172.7,326.1 169.4,332" fill="#C0473A" stroke="#2a0a05" stroke-width="0.6"/>
<polygon points="168.9,328.7 175.5,328.7 172.2,334.6" fill="#C0473A" stroke="#2a0a05" stroke-width="0.6"/>
<polygon points="159.1,331.5 165.7,331.5 162.4,337.4" fill="#C0473A" stroke="#2a0a05" stroke-width="0.6"/>
<polygon points="161.8,341.1 168.4,341.1 165.1,347" fill="#C0473A" stroke="#2a0a05" stroke-width="0.6"/>
<polygon points="166.3,341.1 172.9,341.1 169.6,347" fill="#C0473A" stroke="#2a0a05" stroke-width="0.6"/>
<polygon points="166.7,350.7 173.3,350.7 170,356.6" fill="#C0473A" stroke="#2a0a05" stroke-width="0.6"/>
<polygon points="161.6,354.6 168.2,354.6 164.9,360.5" fill="#C0473A" stroke="#2a0a05" stroke-width="0.6"/>
<line x1="167.2" y1="316.3" x2="167.2" y2="341.7" stroke="#000" stroke-width="1.3"/>
<line x1="163.25" y1="316.3" x2="171.15" y2="316.3" stroke="#000" stroke-width="1.3"/>
<line x1="163.25" y1="341.7" x2="171.15" y2="341.7" stroke="#000" stroke-width="1.3"/>
<line x1="157.9" y1="329" x2="176.7" y2="329" stroke="#000" stroke-width="2.4"/>
<text x="93.1" y="392.1" font-size="10.4" font-weight="bold" text-anchor="middle" textLength="20.4" lengthAdjust="spacingAndGlyphs" font-style="italic">IFI27</text>
<text x="154" y="392.1" font-size="10.4" font-weight="bold" text-anchor="middle" textLength="29.4" lengthAdjust="spacingAndGlyphs" font-style="italic">RSAD2</text>
<circle cx="204" cy="271.4" r="3.2" fill="#6EC0B6" stroke="#1a2624" stroke-width="0.8"/>
<text x="217.2" y="276.4" font-size="11.1" textLength="29.1" lengthAdjust="spacingAndGlyphs">ADA2</text>
<text x="246.3" y="271.4" font-size="8.2" textLength="29.1" lengthAdjust="spacingAndGlyphs">WT/WT</text>
<polygon points="200.5,285.4 206.7,285.4 203.6,291.8" fill="#C0473A" stroke="#2a0a05" stroke-width="0.5"/>
<text x="217.2" y="293.4" font-size="11.1" textLength="29.1" lengthAdjust="spacingAndGlyphs">ADA2</text>
<text x="246.5" y="288.5" font-size="8" textLength="8" lengthAdjust="spacingAndGlyphs">-/-</text>
<text x="1.5" y="420.1" font-size="24" font-weight="bold">D</text>
<text x="32.6" y="420.4" font-size="15.8" font-weight="bold" textLength="46.1" lengthAdjust="spacingAndGlyphs">PBMC</text>
<text x="164.5" y="440.2" font-size="12.5" text-anchor="middle" textLength="21.9" lengthAdjust="spacingAndGlyphs">48h</text>
<line x1="65.8" y1="457.7" x2="65.8" y2="591.4" stroke="#262626" stroke-width="1.4"/>
<line x1="60.2" y1="590.8" x2="65.8" y2="590.8" stroke="#262626" stroke-width="1.2"/>
<text x="58.4" y="595.76" font-size="12.4" text-anchor="end" textLength="16.68" lengthAdjust="spacingAndGlyphs">0.0</text>
<line x1="60.2" y1="557.67" x2="65.8" y2="557.67" stroke="#262626" stroke-width="1.2"/>
<text x="58.4" y="562.64" font-size="12.4" text-anchor="end" textLength="16.68" lengthAdjust="spacingAndGlyphs">0.5</text>
<line x1="60.2" y1="524.55" x2="65.8" y2="524.55" stroke="#262626" stroke-width="1.2"/>
<text x="58.4" y="529.51" font-size="12.4" text-anchor="end" textLength="16.68" lengthAdjust="spacingAndGlyphs">1.0</text>
<line x1="60.2" y1="491.43" x2="65.8" y2="491.43" stroke="#262626" stroke-width="1.2"/>
<text x="58.4" y="496.39" font-size="12.4" text-anchor="end" textLength="16.68" lengthAdjust="spacingAndGlyphs">1.5</text>
<line x1="60.2" y1="458.3" x2="65.8" y2="458.3" stroke="#262626" stroke-width="1.2"/>
<text x="58.4" y="463.26" font-size="12.4" text-anchor="end" textLength="16.68" lengthAdjust="spacingAndGlyphs">2.0</text>
<line x1="65.8" y1="590.8" x2="269.8" y2="590.8" stroke="#1e1e1e" stroke-width="1.2"/>
<line x1="65.8" y1="524.55" x2="269.5" y2="524.55" stroke="#111" stroke-width="1.2" stroke-dasharray="1.7 2.27" stroke-dashoffset="1.35"/>
<text x="24.1" y="521.9" font-size="10.2" text-anchor="middle" textLength="62.6" lengthAdjust="spacingAndGlyphs" transform="rotate(-90 24.1 521.9)">Cell death [%]</text>
<text x="33" y="523.6" font-size="8.1" text-anchor="middle" textLength="92.7" lengthAdjust="spacingAndGlyphs" transform="rotate(-90 33 523.6)">relative to medium control</text>
<line x1="75.9" y1="466.9" x2="100.6" y2="466.9" stroke="#333" stroke-width="1.6"/>
<text x="88.4" y="460.8" font-size="11.2" text-anchor="middle" textLength="11.6" lengthAdjust="spacingAndGlyphs">ns</text>
<line x1="127.2" y1="466.9" x2="152.4" y2="466.9" stroke="#333" stroke-width="1.6"/>
<line x1="135.9" y1="454.8" x2="135.9" y2="460.8" stroke="#111" stroke-width="1.5"/>
<line x1="133.3" y1="456.3" x2="138.5" y2="459.3" stroke="#111" stroke-width="1.5"/>
<line x1="138.5" y1="456.3" x2="133.3" y2="459.3" stroke="#111" stroke-width="1.5"/>
<circle cx="135.9" cy="457.8" r="0.9" fill="#111"/>
<line x1="143.8" y1="454.8" x2="143.8" y2="460.8" stroke="#111" stroke-width="1.5"/>
<line x1="141.2" y1="456.3" x2="146.4" y2="459.3" stroke="#111" stroke-width="1.5"/>
<line x1="146.4" y1="456.3" x2="141.2" y2="459.3" stroke="#111" stroke-width="1.5"/>
<circle cx="143.8" cy="457.8" r="0.9" fill="#111"/>
<line x1="178.5" y1="466.9" x2="204" y2="466.9" stroke="#333" stroke-width="1.6"/>
<text x="191.35" y="460.8" font-size="11.2" text-anchor="middle" textLength="11.7" lengthAdjust="spacingAndGlyphs">ns</text>
<line x1="230.4" y1="466.9" x2="255.7" y2="466.9" stroke="#333" stroke-width="1.6"/>
<text x="243.05" y="460.8" font-size="11.2" text-anchor="middle" textLength="10.9" lengthAdjust="spacingAndGlyphs">ns</text>
<circle cx="78.9" cy="519.5" r="4" fill="#4FA99E" stroke="#1c2826" stroke-width="0.7"/>
<circle cx="79.5" cy="527" r="4" fill="#4FA99E" stroke="#1c2826" stroke-width="0.7"/>
<circle cx="81" cy="530" r="4" fill="#4FA99E" stroke="#1c2826" stroke-width="0.7"/>
<circle cx="76" cy="533" r="4" fill="#4FA99E" stroke="#1c2826" stroke-width="0.7"/>
<circle cx="78.5" cy="536" r="4" fill="#4FA99E" stroke="#1c2826" stroke-width="0.7"/>
<circle cx="74.5" cy="538.5" r="4" fill="#4FA99E" stroke="#1c2826" stroke-width="0.7"/>
<circle cx="82.5" cy="538.5" r="4" fill="#4FA99E" stroke="#1c2826" stroke-width="0.7"/>
<circle cx="78.5" cy="541" r="4" fill="#4FA99E" stroke="#1c2826" stroke-width="0.7"/>
<circle cx="132.8" cy="510.1" r="4" fill="#4FA99E" stroke="#1c2826" stroke-width="0.7"/>
<circle cx="130" cy="514.5" r="4" fill="#4FA99E" stroke="#1c2826" stroke-width="0.7"/>
<circle cx="131" cy="520.5" r="4" fill="#4FA99E" stroke="#1c2826" stroke-width="0.7"/>
<circle cx="129" cy="524" r="4" fill="#4FA99E" stroke="#1c2826" stroke-width="0.7"/>
<circle cx="133" cy="527" r="4" fill="#4FA99E" stroke="#1c2826" stroke-width="0.7"/>
<circle cx="130.5" cy="531" r="4" fill="#4FA99E" stroke="#1c2826" stroke-width="0.7"/>
<circle cx="129" cy="537.5" r="4" fill="#4FA99E" stroke="#1c2826" stroke-width="0.7"/>
<circle cx="135" cy="537.5" r="4" fill="#4FA99E" stroke="#1c2826" stroke-width="0.7"/>
<circle cx="131.5" cy="541" r="4" fill="#4FA99E" stroke="#1c2826" stroke-width="0.7"/>
<circle cx="183.5" cy="541.5" r="4" fill="#4FA99E" stroke="#1c2826" stroke-width="0.7"/>
<circle cx="180.5" cy="545" r="4" fill="#4FA99E" stroke="#1c2826" stroke-width="0.7"/>
<circle cx="186" cy="546" r="4" fill="#4FA99E" stroke="#1c2826" stroke-width="0.7"/>
<circle cx="182.5" cy="550" r="4" fill="#4FA99E" stroke="#1c2826" stroke-width="0.7"/>
<circle cx="183" cy="553" r="4" fill="#4FA99E" stroke="#1c2826" stroke-width="0.7"/>
<circle cx="180" cy="555.5" r="4" fill="#4FA99E" stroke="#1c2826" stroke-width="0.7"/>
<circle cx="184.5" cy="560" r="4" fill="#4FA99E" stroke="#1c2826" stroke-width="0.7"/>
<circle cx="234.3" cy="493.5" r="4" fill="#4FA99E" stroke="#1c2826" stroke-width="0.7"/>
<circle cx="239.5" cy="495.5" r="4" fill="#4FA99E" stroke="#1c2826" stroke-width="0.7"/>
<circle cx="236.3" cy="515.1" r="4" fill="#4FA99E" stroke="#1c2826" stroke-width="0.7"/>
<circle cx="236.3" cy="520" r="4" fill="#4FA99E" stroke="#1c2826" stroke-width="0.7"/>
<circle cx="236.3" cy="526" r="4" fill="#4FA99E" stroke="#1c2826" stroke-width="0.7"/>
<circle cx="236.3" cy="532" r="4" fill="#4FA99E" stroke="#1c2826" stroke-width="0.7"/>
<circle cx="233.9" cy="536.2" r="4" fill="#4FA99E" stroke="#1c2826" stroke-width="0.7"/>
<circle cx="238.5" cy="535.5" r="4" fill="#4FA99E" stroke="#1c2826" stroke-width="0.7"/>
<circle cx="236.3" cy="547.5" r="4" fill="#4FA99E" stroke="#1c2826" stroke-width="0.7"/>
<polygon points="93.8,522.4 98,522.4 98,530" fill="#AC2228"/>
<polygon points="98,522.4 102.2,522.4 98,530" fill="#2E3E9E"/>
<polygon points="92.8,526 97,526 97,533.6" fill="#AC2228"/>
<polygon points="97,526 101.2,526 97,533.6" fill="#2E3E9E"/>
<polygon points="95.3,529.5 99.5,529.5 99.5,537.1" fill="#EFA52F"/>
<polygon points="99.5,529.5 103.7,529.5 99.5,537.1" fill="#2E3E9E"/>
<polygon points="92.3,532 96.5,532 96.5,539.6" fill="#AC2228"/>
<polygon points="96.5,532 100.7,532 96.5,539.6" fill="#2E3E9E"/>
<polygon points="94.3,534.5 98.5,534.5 98.5,542.1" fill="#EFA52F"/>
<polygon points="98.5,534.5 102.7,534.5 98.5,542.1" fill="#2E3E9E"/>
<polygon points="92.8,538 97,538 97,545.6" fill="#EFA52F"/>
<polygon points="97,538 101.2,538 97,545.6" fill="#2E3E9E"/>
<polygon points="95.3,541 99.5,541 99.5,548.6" fill="#EFA52F"/>
<polygon points="99.5,541 103.7,541 99.5,548.6" fill="#2E3E9E"/>
<polygon points="93.8,540.5 98,540.5 98,548.1" fill="#EFA52F"/>
<polygon points="98,540.5 102.2,540.5 98,548.1" fill="#2E3E9E"/>
<polygon points="94.3,549.1 98.5,549.1 98.5,556.7" fill="#2E3E9E"/>
<polygon points="98.5,549.1 102.7,549.1 98.5,556.7" fill="#2E3E9E"/>
<polygon points="93.6,551 97.8,551 97.8,558.6" fill="#EFA52F"/>
<polygon points="97.8,551 102,551 97.8,558.6" fill="#2E3E9E"/>
<polygon points="147.3,528.9 151.5,528.9 151.5,536.5" fill="#2E3E9E"/>
<polygon points="151.5,528.9 155.7,528.9 151.5,536.5" fill="#2E3E9E"/>
<polygon points="144.8,530.5 149,530.5 149,538.1" fill="#EFA52F"/>
<polygon points="149,530.5 153.2,530.5 149,538.1" fill="#EFA52F"/>
<polygon points="146.8,533 151,533 151,540.6" fill="#AC2228"/>
<polygon points="151,533 155.2,533 151,540.6" fill="#2E3E9E"/>
<polygon points="148.8,535.5 153,535.5 153,543.1" fill="#EFA52F"/>
<polygon points="153,535.5 157.2,535.5 153,543.1" fill="#2E3E9E"/>
<polygon points="145.8,537.5 150,537.5 150,545.1" fill="#EFA52F"/>
<polygon points="150,537.5 154.2,537.5 150,545.1" fill="#2E3E9E"/>
<polygon points="148.3,539.5 152.5,539.5 152.5,547.1" fill="#2E3E9E"/>
<polygon points="152.5,539.5 156.7,539.5 152.5,547.1" fill="#2E3E9E"/>
<polygon points="147.3,548 151.5,548 151.5,555.6" fill="#EFA52F"/>
<polygon points="151.5,548 155.7,548 151.5,555.6" fill="#2E3E9E"/>
<polygon points="198.4,539.6 202.6,539.6 202.6,547.2" fill="#AC2228"/>
<polygon points="202.6,539.6 206.8,539.6 202.6,547.2" fill="#2E3E9E"/>
<polygon points="196.8,542 201,542 201,549.6" fill="#AC2228"/>
<polygon points="201,542 205.2,542 201,549.6" fill="#AC2228"/>
<polygon points="199.8,544 204,544 204,551.6" fill="#EFA52F"/>
<polygon points="204,544 208.2,544 204,551.6" fill="#2E3E9E"/>
<polygon points="198.4,547 202.6,547 202.6,554.6" fill="#EFA52F"/>
<polygon points="202.6,547 206.8,547 202.6,554.6" fill="#2E3E9E"/>
<polygon points="198.8,551 203,551 203,558.6" fill="#EFA52F"/>
<polygon points="203,551 207.2,551 203,558.6" fill="#2E3E9E"/>
<polygon points="198.4,555 202.6,555 202.6,562.6" fill="#2E3E9E"/>
<polygon points="202.6,555 206.8,555 202.6,562.6" fill="#2E3E9E"/>
<polygon points="197.8,558.5 202,558.5 202,566.1" fill="#EFA52F"/>
<polygon points="202,558.5 206.2,558.5 202,566.1" fill="#2E3E9E"/>
<polygon points="251.3,493.5 255.5,493.5 255.5,501.1" fill="#EFA52F"/>
<polygon points="255.5,493.5 259.7,493.5 255.5,501.1" fill="#2E3E9E"/>
<polygon points="254.6,496.7 258.8,496.7 258.8,504.3" fill="#2E3E9E"/>
<polygon points="258.8,496.7 263,496.7 258.8,504.3" fill="#2E3E9E"/>
<polygon points="248.5,500 252.7,500 252.7,507.6" fill="#AC2228"/>
<polygon points="252.7,500 256.9,500 252.7,507.6" fill="#AC2228"/>
<polygon points="251.3,501.9 255.5,501.9 255.5,509.5" fill="#2E3E9E"/>
<polygon points="255.5,501.9 259.7,501.9 255.5,509.5" fill="#2E3E9E"/>
<polygon points="251.3,506.6 255.5,506.6 255.5,514.2" fill="#AC2228"/>
<polygon points="255.5,506.6 259.7,506.6 255.5,514.2" fill="#2E3E9E"/>
<polygon points="251.3,513.2 255.5,513.2 255.5,520.8" fill="#EFA52F"/>
<polygon points="255.5,513.2 259.7,513.2 255.5,520.8" fill="#EFA52F"/>
<polygon points="251.3,530.1 255.5,530.1 255.5,537.7" fill="#EFA52F"/>
<polygon points="255.5,530.1 259.7,530.1 255.5,537.7" fill="#2E3E9E"/>
<polygon points="251.3,535 255.5,535 255.5,542.6" fill="#EFA52F"/>
<polygon points="255.5,535 259.7,535 255.5,542.6" fill="#2E3E9E"/>
<polygon points="251.3,541.4 255.5,541.4 255.5,549" fill="#2E3E9E"/>
<polygon points="255.5,541.4 259.7,541.4 255.5,549" fill="#2E3E9E"/>
<polygon points="251.3,549.8 255.5,549.8 255.5,557.4" fill="#2E3E9E"/>
<polygon points="255.5,549.8 259.7,549.8 255.5,557.4" fill="#2E3E9E"/>
<line x1="78.9" y1="531.2" x2="78.9" y2="538.5" stroke="#000" stroke-width="1.3"/>
<line x1="75.9" y1="531.2" x2="81.9" y2="531.2" stroke="#000" stroke-width="1.3"/>
<line x1="75.9" y1="538.5" x2="81.9" y2="538.5" stroke="#000" stroke-width="1.3"/>
<line x1="71.2" y1="533.9" x2="86.5" y2="533.9" stroke="#000" stroke-width="3"/>
<line x1="98.4" y1="533.4" x2="98.4" y2="543.9" stroke="#000" stroke-width="1.3"/>
<line x1="95.4" y1="533.4" x2="101.4" y2="533.4" stroke="#000" stroke-width="1.3"/>
<line x1="95.4" y1="543.9" x2="101.4" y2="543.9" stroke="#000" stroke-width="1.3"/>
<line x1="90.5" y1="535.9" x2="106.6" y2="535.9" stroke="#000" stroke-width="3"/>
<line x1="131.5" y1="515.6" x2="131.5" y2="536.8" stroke="#000" stroke-width="1.3"/>
<line x1="128.5" y1="515.6" x2="134.5" y2="515.6" stroke="#000" stroke-width="1.3"/>
<line x1="128.5" y1="536.8" x2="134.5" y2="536.8" stroke="#000" stroke-width="1.3"/>
<line x1="123.3" y1="527.9" x2="139" y2="527.9" stroke="#000" stroke-width="3"/>
<line x1="151.5" y1="534" x2="151.5" y2="545" stroke="#000" stroke-width="1.3"/>
<line x1="148.5" y1="534" x2="154.5" y2="534" stroke="#000" stroke-width="1.3"/>
<line x1="148.5" y1="545" x2="154.5" y2="545" stroke="#000" stroke-width="1.3"/>
<line x1="143.2" y1="537.9" x2="158.9" y2="537.9" stroke="#000" stroke-width="3"/>
<line x1="183.4" y1="543.8" x2="183.4" y2="554.5" stroke="#000" stroke-width="1.3"/>
<line x1="180.4" y1="543.8" x2="186.4" y2="543.8" stroke="#000" stroke-width="1.3"/>
<line x1="180.4" y1="554.5" x2="186.4" y2="554.5" stroke="#000" stroke-width="1.3"/>
<line x1="176" y1="551.7" x2="191.9" y2="551.7" stroke="#000" stroke-width="3"/>
<line x1="202.6" y1="546.5" x2="202.6" y2="556" stroke="#000" stroke-width="1.3"/>
<line x1="199.6" y1="546.5" x2="205.6" y2="546.5" stroke="#000" stroke-width="1.3"/>
<line x1="199.6" y1="556" x2="205.6" y2="556" stroke="#000" stroke-width="1.3"/>
<line x1="195.5" y1="550.2" x2="211.7" y2="550.2" stroke="#000" stroke-width="3"/>
<line x1="236.3" y1="496.7" x2="236.3" y2="533.9" stroke="#000" stroke-width="1.3"/>
<line x1="233.3" y1="496.7" x2="239.3" y2="496.7" stroke="#000" stroke-width="1.3"/>
<line x1="233.3" y1="533.9" x2="239.3" y2="533.9" stroke="#000" stroke-width="1.3"/>
<line x1="228.3" y1="522.6" x2="244.3" y2="522.6" stroke="#000" stroke-width="3"/>
<line x1="255.5" y1="501" x2="255.5" y2="539.3" stroke="#000" stroke-width="1.3"/>
<line x1="252.5" y1="501" x2="258.5" y2="501" stroke="#000" stroke-width="1.3"/>
<line x1="252.5" y1="539.3" x2="258.5" y2="539.3" stroke="#000" stroke-width="1.3"/>
<line x1="248" y1="512.4" x2="263.5" y2="512.4" stroke="#000" stroke-width="3"/>
<circle cx="306.4" cy="468.1" r="4.3" fill="#4FA99E" stroke="#1c2826" stroke-width="0.7"/>
<text x="322.2" y="472.6" font-size="12.5" textLength="17.5" lengthAdjust="spacingAndGlyphs">HC</text>
<polygon points="302.05,483.9 310.95,483.9 306.5,492.3" fill="#000"/>
<text x="322.2" y="492.1" font-size="12.5" textLength="41.4" lengthAdjust="spacingAndGlyphs">DADA2</text>
<text x="77.6" y="607" font-size="10.3" font-weight="bold" textLength="22.3" lengthAdjust="spacingAndGlyphs">CD4+</text>
<text x="130.1" y="607" font-size="10.3" font-weight="bold" textLength="22.4" lengthAdjust="spacingAndGlyphs">CD8+</text>
<text x="180.4" y="607" font-size="10.3" font-weight="bold" textLength="27.8" lengthAdjust="spacingAndGlyphs">CD19+</text>
<text x="224.3" y="607" font-size="10.3" font-weight="bold" textLength="45.3" lengthAdjust="spacingAndGlyphs">Monocytes</text>
<text x="3.2" y="638.3" font-size="24" font-weight="bold">E</text>
<text x="34.3" y="638.6" font-size="15.8" font-weight="bold" textLength="102.2" lengthAdjust="spacingAndGlyphs">Lymphocytes</text>
<line x1="68.5" y1="672" x2="68.5" y2="781.9" stroke="#262626" stroke-width="1.4"/>
<line x1="63.8" y1="781.3" x2="68.5" y2="781.3" stroke="#262626" stroke-width="1.2"/>
<text x="62.8" y="785.54" font-size="10.4" text-anchor="end">0</text>
<line x1="63.8" y1="745.07" x2="68.5" y2="745.07" stroke="#262626" stroke-width="1.2"/>
<text x="62.8" y="749.31" font-size="10.4" text-anchor="end">5</text>
<line x1="63.8" y1="708.83" x2="68.5" y2="708.83" stroke="#262626" stroke-width="1.2"/>
<text x="62.8" y="713.08" font-size="10.4" text-anchor="end">10</text>
<line x1="63.8" y1="672.6" x2="68.5" y2="672.6" stroke="#262626" stroke-width="1.2"/>
<text x="62.8" y="676.84" font-size="10.4" text-anchor="end">15</text>
<line x1="68.5" y1="781.3" x2="219.1" y2="781.3" stroke="#1e1e1e" stroke-width="1.2"/>
<text x="45.4" y="727.2" font-size="10.8" text-anchor="middle" textLength="66.7" lengthAdjust="spacingAndGlyphs" transform="rotate(-90 45.4 727.2)">Cell death [%]</text>
<circle cx="79.8" cy="703.2" r="3.5" fill="#4FA99E" stroke="#1c2826" stroke-width="0.7"/>
<circle cx="76.9" cy="706" r="3.5" fill="#4FA99E" stroke="#1c2826" stroke-width="0.7"/>
<circle cx="78.5" cy="722.8" r="3.5" fill="#4FA99E" stroke="#1c2826" stroke-width="0.7"/>
<circle cx="78.5" cy="744.2" r="3.5" fill="#4FA99E" stroke="#1c2826" stroke-width="0.7"/>
<circle cx="114.8" cy="694.7" r="3.5" fill="#4FA99E" stroke="#1c2826" stroke-width="0.7"/>
<circle cx="118.8" cy="691" r="3.5" fill="#4FA99E" stroke="#1c2826" stroke-width="0.7"/>
<circle cx="117.2" cy="720.4" r="3.5" fill="#4FA99E" stroke="#1c2826" stroke-width="0.7"/>
<circle cx="117.2" cy="752.5" r="3.5" fill="#4FA99E" stroke="#1c2826" stroke-width="0.7"/>
<circle cx="155.7" cy="698.7" r="3.5" fill="#4FA99E" stroke="#1c2826" stroke-width="0.7"/>
<circle cx="155.7" cy="711.6" r="3.5" fill="#4FA99E" stroke="#1c2826" stroke-width="0.7"/>
<circle cx="155.7" cy="724.4" r="3.5" fill="#4FA99E" stroke="#1c2826" stroke-width="0.7"/>
<circle cx="155.7" cy="753.6" r="3.5" fill="#4FA99E" stroke="#1c2826" stroke-width="0.7"/>
<circle cx="195.8" cy="696" r="3.5" fill="#4FA99E" stroke="#1c2826" stroke-width="0.7"/>
<circle cx="192.6" cy="699.5" r="3.5" fill="#4FA99E" stroke="#1c2826" stroke-width="0.7"/>
<circle cx="194.2" cy="719.1" r="3.5" fill="#4FA99E" stroke="#1c2826" stroke-width="0.7"/>
<circle cx="194.2" cy="749.6" r="3.5" fill="#4FA99E" stroke="#1c2826" stroke-width="0.7"/>
<polygon points="89.2,683.5 96.8,683.5 93,690.4" fill="#AC2228"/>
<polygon points="92.8,684.14 95.28,684.14 92.8,689.12" fill="#EFA52F"/>
<polygon points="89.2,698 96.8,698 93,704.9" fill="#EFA52F"/>
<polygon points="92.8,698.64 95.28,698.64 92.8,703.62" fill="#2E3E9E"/>
<polygon points="89.2,736.3 96.8,736.3 93,743.2" fill="#EFA52F"/>
<polygon points="92.8,736.94 95.28,736.94 92.8,741.92" fill="#2E3E9E"/>
<polygon points="127.7,681.1 135.3,681.1 131.5,688" fill="#AC2228"/>
<polygon points="131.3,681.74 133.78,681.74 131.3,686.72" fill="#EFA52F"/>
<polygon points="127.7,700.3 135.3,700.3 131.5,707.2" fill="#EFA52F"/>
<polygon points="131.3,700.94 133.78,700.94 131.3,705.92" fill="#2E3E9E"/>
<polygon points="127.7,743.3 135.3,743.3 131.5,750.2" fill="#EFA52F"/>
<polygon points="131.3,743.94 133.78,743.94 131.3,748.92" fill="#2E3E9E"/>
<polygon points="166.3,680.3 173.9,680.3 170.1,687.2" fill="#AC2228"/>
<polygon points="169.9,680.94 172.38,680.94 169.9,685.92" fill="#EFA52F"/>
<polygon points="166.3,702.7 173.9,702.7 170.1,709.6" fill="#EFA52F"/>
<polygon points="169.9,703.34 172.38,703.34 169.9,708.32" fill="#2E3E9E"/>
<polygon points="166.3,747.2 173.9,747.2 170.1,754.1" fill="#EFA52F"/>
<polygon points="169.9,747.84 172.38,747.84 169.9,752.82" fill="#2E3E9E"/>
<polygon points="205.2,675.9 212.8,675.9 209,682.8" fill="#AC2228"/>
<polygon points="208.8,676.54 211.28,676.54 208.8,681.52" fill="#EFA52F"/>
<polygon points="205.2,700 212.8,700 209,706.9" fill="#EFA52F"/>
<polygon points="208.8,700.64 211.28,700.64 208.8,705.62" fill="#2E3E9E"/>
<polygon points="205.2,739.2 212.8,739.2 209,746.1" fill="#EFA52F"/>
<polygon points="208.8,739.84 211.28,739.84 208.8,744.82" fill="#2E3E9E"/>
<line x1="72.1" y1="714.3" x2="84.6" y2="714.3" stroke="#000" stroke-width="2.3"/>
<line x1="87" y1="701.8" x2="99" y2="701.8" stroke="#000" stroke-width="2.3"/>
<line x1="111.1" y1="707.6" x2="122.8" y2="707.6" stroke="#000" stroke-width="2.3"/>
<line x1="126.4" y1="703.5" x2="137.6" y2="703.5" stroke="#000" stroke-width="2.3"/>
<line x1="149.8" y1="717.7" x2="161.8" y2="717.7" stroke="#000" stroke-width="2.3"/>
<line x1="164.2" y1="706.1" x2="176.3" y2="706.1" stroke="#000" stroke-width="2.3"/>
<line x1="188.3" y1="709.3" x2="200.3" y2="709.3" stroke="#000" stroke-width="2.3"/>
<line x1="203.1" y1="703.5" x2="215.1" y2="703.5" stroke="#000" stroke-width="2.3"/>
<circle cx="254.5" cy="681.2" r="4.2" fill="#4FA99E" stroke="#1c2826" stroke-width="0.7"/>
<text x="268.6" y="683.8" font-size="10.4" textLength="14.5" lengthAdjust="spacingAndGlyphs">HC</text>
<polygon points="250.6,696.9 259.4,696.9 255,705.3" fill="#000"/>
<text x="268.6" y="704.4" font-size="10.6" textLength="35.8" lengthAdjust="spacingAndGlyphs">DADA2</text>
<text x="35.1" y="797.6" font-size="10.6" textLength="27.7" lengthAdjust="spacingAndGlyphs">ADA2</text>
<text x="119.6" y="797.2" font-size="10" font-weight="bold" textLength="11.8" lengthAdjust="spacingAndGlyphs">EV</text>
<text x="157.6" y="797.2" font-size="10" font-weight="bold" textLength="13.3" lengthAdjust="spacingAndGlyphs">WT</text>
<text x="191.4" y="797.2" font-size="10" font-weight="bold" textLength="22.8" lengthAdjust="spacingAndGlyphs">G47A</text>
<text x="331.8" y="638.4" font-size="24" font-weight="bold">F</text>
<text x="363.5" y="638.7" font-size="15.8" font-weight="bold" textLength="82.1" lengthAdjust="spacingAndGlyphs">U-937 cells</text>
<line x1="400.9" y1="671.7" x2="400.9" y2="782" stroke="#262626" stroke-width="1.4"/>
<line x1="396.2" y1="781.4" x2="400.9" y2="781.4" stroke="#262626" stroke-width="1.2"/>
<text x="395" y="785.64" font-size="10.4" text-anchor="end">0</text>
<line x1="396.2" y1="745.03" x2="400.9" y2="745.03" stroke="#262626" stroke-width="1.2"/>
<text x="395" y="749.28" font-size="10.4" text-anchor="end">5</text>
<line x1="396.2" y1="708.67" x2="400.9" y2="708.67" stroke="#262626" stroke-width="1.2"/>
<text x="395" y="712.91" font-size="10.4" text-anchor="end">10</text>
<line x1="396.2" y1="672.3" x2="400.9" y2="672.3" stroke="#262626" stroke-width="1.2"/>
<text x="395" y="676.54" font-size="10.4" text-anchor="end">15</text>
<line x1="400.9" y1="781.4" x2="541.7" y2="781.4" stroke="#1e1e1e" stroke-width="1.2"/>
<text x="379" y="727" font-size="10.8" text-anchor="middle" textLength="67.4" lengthAdjust="spacingAndGlyphs" transform="rotate(-90 379 727)">Cell death [%]</text>
<circle cx="412.9" cy="751.1" r="3.2" fill="#4FA99E" stroke="#1c2826" stroke-width="0.7"/>
<circle cx="423.9" cy="752.8" r="3.2" fill="#4FA99E" stroke="#1c2826" stroke-width="0.7"/>
<circle cx="418.1" cy="754.6" r="3.2" fill="#4FA99E" stroke="#1c2826" stroke-width="0.7"/>
<circle cx="418.7" cy="762.5" r="3.2" fill="#4FA99E" stroke="#1c2826" stroke-width="0.7"/>
<circle cx="439.7" cy="754.6" r="3.2" fill="#4FA99E" stroke="#1c2826" stroke-width="0.7"/>
<circle cx="443.2" cy="751.1" r="3.2" fill="#4FA99E" stroke="#1c2826" stroke-width="0.7"/>
<circle cx="446.7" cy="754.6" r="3.2" fill="#4FA99E" stroke="#1c2826" stroke-width="0.7"/>
<circle cx="450.2" cy="753.3" r="3.2" fill="#4FA99E" stroke="#1c2826" stroke-width="0.7"/>
<polygon points="462.1,695.3 468.9,695.3 465.5,701.9" fill="#A82424" stroke="#5a1010" stroke-width="0.5"/>
<polygon points="473.5,695.3 480.3,695.3 476.9,701.9" fill="#A82424" stroke="#5a1010" stroke-width="0.5"/>
<polygon points="467.7,697 474.5,697 471.1,703.6" fill="#A82424" stroke="#5a1010" stroke-width="0.5"/>
<polygon points="467.7,707.5 474.5,707.5 471.1,714.1" fill="#A82424" stroke="#5a1010" stroke-width="0.5"/>
<polygon points="488.7,706.1 495.5,706.1 492.1,712.7" fill="#A82424" stroke="#5a1010" stroke-width="0.5"/>
<polygon points="499.2,700.2 506,700.2 502.6,706.8" fill="#A82424" stroke="#5a1010" stroke-width="0.5"/>
<polygon points="488.7,717.7 495.5,717.7 492.1,724.3" fill="#A82424" stroke="#5a1010" stroke-width="0.5"/>
<polygon points="499.2,716 506,716 502.6,722.6" fill="#A82424" stroke="#5a1010" stroke-width="0.5"/>
<polygon points="520.3,680.9 527.1,680.9 523.7,687.5" fill="#A82424"/>
<polygon points="523.5,681.54 525.58,681.54 523.5,686.22" fill="#4FA99E"/>
<polygon points="515,704.9 521.8,704.9 518.4,711.5" fill="#A82424"/>
<polygon points="518.2,705.54 520.28,705.54 518.2,710.22" fill="#4FA99E"/>
<polygon points="515,711 521.8,711 518.4,717.6" fill="#A82424"/>
<polygon points="518.2,711.64 520.28,711.64 518.2,716.32" fill="#4FA99E"/>
<polygon points="526,707.9 532.8,707.9 529.4,714.5" fill="#A82424"/>
<polygon points="529.2,708.54 531.28,708.54 529.2,713.22" fill="#4FA99E"/>
<line x1="407.6" y1="754" x2="429.2" y2="754" stroke="#000" stroke-width="2.3"/>
<line x1="433.9" y1="754" x2="455.4" y2="754" stroke="#000" stroke-width="2.3"/>
<line x1="460.3" y1="700" x2="482.1" y2="700" stroke="#000" stroke-width="2.3"/>
<line x1="486.5" y1="714.5" x2="508.4" y2="714.5" stroke="#000" stroke-width="2.3"/>
<line x1="512.8" y1="709.8" x2="534.7" y2="709.8" stroke="#000" stroke-width="2.3"/>
<line x1="461.1" y1="672.2" x2="480" y2="672.2" stroke="#222" stroke-width="1.3"/>
<line x1="470.8" y1="662" x2="470.8" y2="667.2" stroke="#111" stroke-width="1.2"/>
<line x1="468.55" y1="663.3" x2="473.05" y2="665.9" stroke="#111" stroke-width="1.2"/>
<line x1="473.05" y1="663.3" x2="468.55" y2="665.9" stroke="#111" stroke-width="1.2"/>
<circle cx="470.8" cy="664.6" r="0.9" fill="#111"/>
<line x1="487" y1="672.2" x2="506.1" y2="672.2" stroke="#222" stroke-width="1.3"/>
<line x1="496.5" y1="662" x2="496.5" y2="667.2" stroke="#111" stroke-width="1.2"/>
<line x1="494.25" y1="663.3" x2="498.75" y2="665.9" stroke="#111" stroke-width="1.2"/>
<line x1="498.75" y1="663.3" x2="494.25" y2="665.9" stroke="#111" stroke-width="1.2"/>
<circle cx="496.5" cy="664.6" r="0.9" fill="#111"/>
<line x1="513.1" y1="672.2" x2="532.1" y2="672.2" stroke="#222" stroke-width="1.3"/>
<line x1="522.4" y1="662" x2="522.4" y2="667.2" stroke="#111" stroke-width="1.2"/>
<line x1="520.15" y1="663.3" x2="524.65" y2="665.9" stroke="#111" stroke-width="1.2"/>
<line x1="524.65" y1="663.3" x2="520.15" y2="665.9" stroke="#111" stroke-width="1.2"/>
<circle cx="522.4" cy="664.6" r="0.9" fill="#111"/>
<circle cx="572.5" cy="680.4" r="3.5" fill="#4FA99E" stroke="#1c2826" stroke-width="0.7"/>
<text x="585" y="684.1" font-size="8.8" textLength="23" lengthAdjust="spacingAndGlyphs">ADA2</text>
<text x="608" y="680.5" font-size="6.6" textLength="24.3" lengthAdjust="spacingAndGlyphs">WT/WT</text>
<polygon points="568.95,693 576.05,693 572.5,699.8" fill="#A82424" stroke="#5a1010" stroke-width="0.5"/>
<text x="585" y="700.5" font-size="8.8" textLength="23" lengthAdjust="spacingAndGlyphs">ADA2</text>
<text x="608.2" y="697.3" font-size="6.6" textLength="6.3" lengthAdjust="spacingAndGlyphs">-/-</text>
<text x="344.8" y="797.5" font-size="10.4" textLength="54.9" lengthAdjust="spacingAndGlyphs">Transduced</text>
<text x="418.7" y="797.3" font-size="10" font-weight="bold" text-anchor="middle">-</text>
<text x="446" y="797.3" font-size="10" font-weight="bold" text-anchor="middle" textLength="11.8" lengthAdjust="spacingAndGlyphs">EV</text>
<text x="471.7" y="797.3" font-size="10" font-weight="bold" text-anchor="middle">-</text>
<text x="498" y="797.3" font-size="10" font-weight="bold" text-anchor="middle" textLength="11.8" lengthAdjust="spacingAndGlyphs">EV</text>
<text x="524.6" y="797.3" font-size="10" font-weight="bold" text-anchor="middle" textLength="13.3" lengthAdjust="spacingAndGlyphs">WT</text>
</svg></body></html>
